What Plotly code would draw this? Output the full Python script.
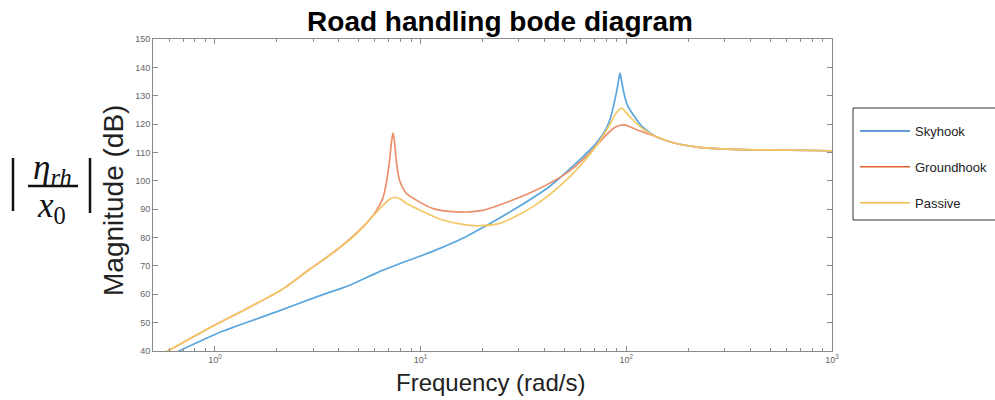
import plotly.graph_objects as go

# Frequency response magnitudes (rad/s, dB) for the three suspension strategies
sky_freq = [0.5, 0.67, 1.02, 1.99, 3.12, 4.52, 6.56, 9.9, 11.5, 16.6, 20.7, 29.1, 42.2,
            57, 71.5, 80, 84, 87, 90, 92, 93.2, 95, 98, 101.5, 106.6, 119.5, 139, 168,
            226, 328, 476, 1000]
sky_db = [35.8, 40, 46.1, 53.8, 59.1, 63.2, 68.5, 73.4, 75.2, 80.3, 84.1, 90.3, 97.9,
          106.2, 113.3, 118.5, 122.5, 127, 132, 136, 138, 135, 130, 126.5, 123.9, 119.1,
          115.6, 113.5, 111.8, 111.1, 110.9, 110.6]

ground_freq = [0.5, 0.59, 0.98, 1.48, 2.15, 2.89, 3.9, 4.87, 5.45, 6.1, 6.56, 6.81, 7.07,
               7.21, 7.34, 7.48, 7.61, 7.75, 7.91, 8.52, 9.53, 11.5, 13.8, 16.6, 20, 24.2,
               35.2, 51.2, 63.7, 79.5, 87, 92.6, 98.2, 106.6, 119.5, 139, 168, 226, 328,
               476, 1000]
ground_db = [37.1, 40, 48.8, 55.5, 62, 68.8, 75.6, 81.6, 85, 89.5, 94, 99.1, 107.4,
             113.3, 116.8, 113.3, 107.4, 103, 100, 95.6, 93.2, 90.2, 89.2, 89, 89.6, 91.5,
             96.2, 102.7, 108.5, 116, 118.6, 119.5, 119.7, 118.7, 117.3, 115.6, 113.5,
             111.8, 111.1, 110.9, 110.6]

passive_freq = [0.5, 0.59, 0.98, 1.48, 2.15, 2.89, 3.9, 4.87, 5.65, 6.56, 7.0, 7.48, 8.0,
                8.52, 10.3, 12.8, 17.3, 20, 24.2, 35.2, 51.2, 68.6, 82.7, 88, 92, 95.5, 99,
                106.6, 119.5, 139, 168, 226, 328, 476, 1000]
passive_db = [37.1, 40, 48.8, 55.5, 62, 68.8, 75.5, 81.3, 86.3, 91.3, 93.3, 94.2, 93.5,
              92.1, 89.1, 86.2, 84.3, 84.2, 85, 90.9, 100.3, 110.6, 119.5, 123.2, 125.0,
              125.6, 124.3, 121.8, 118.5, 115.6, 113.5, 111.8, 111.1, 110.9, 110.6]

series_names = ["Skyhook", "Groundhook", "Passive"]
curve_colors = ["#5aa6dc", "#ea8f6a", "#f4c765"]
legend_colors = ["#2f7fcf", "#e0612f", "#efbd4f"]

x_tick_vals = [1, 10, 100, 1000]
x_tick_text = ["10<sup>0</sup>", "10<sup>1</sup>", "10<sup>2</sup>", "10<sup>3</sup>"]
x_minor_vals = [m * 10 ** d for d in range(-1, 3) for m in range(2, 10) if 0.5 <= m * 10 ** d <= 1000]
y_tick_vals = list(range(40, 151, 10))

# Plot-area geometry in pixels
W, H = 995, 400
L, R, T, B = 153, 832, 39, 351


def px(xp):
    return (xp - L) / (R - L)


def py(yp):
    return (B - yp) / (B - T)


fig = go.Figure()
for name, fx, fy, c in zip(series_names, [sky_freq, ground_freq, passive_freq],
                           [sky_db, ground_db, passive_db], curve_colors):
    fig.add_trace(go.Scatter(x=fx, y=fy, mode="lines", name=name, showlegend=False,
                             line=dict(color=c, width=1.7, shape="spline", smoothing=0.8)))

for i, (name, c) in enumerate(zip(series_names, legend_colors)):
    fig.add_trace(go.Scatter(x=[None], y=[None], mode="lines", name=name,
                             legendgroup=f"g{i}", line=dict(color=c, width=1.5)))

axis_common = dict(showgrid=False, zeroline=False, showline=True, linecolor="#8a8a8a",
                   linewidth=1, mirror="ticks", ticks="inside", tickcolor="#8a8a8a",
                   tickfont=dict(family="Liberation Sans, Arial", size=9, color="#666666"))

fig.update_xaxes(type="log", range=[-0.30103, 3], tickvals=x_tick_vals, ticktext=x_tick_text,
                 ticklen=5, minor=dict(tickvals=x_minor_vals, ticks="inside", ticklen=3,
                                       tickcolor="#8a8a8a"),
                 **axis_common)
fig.update_yaxes(range=[40, 150], tickvals=y_tick_vals, ticklen=5, **axis_common)

annotations = [
    dict(text="Magnitude (dB)", x=px(114), y=py(201), textangle=-90,
         font=dict(family="Liberation Sans, Arial", size=28, color="#222222")),
    dict(text="Frequency (rad/s)", x=px(490), y=py(382),
         font=dict(family="Liberation Sans, Arial", size=24, color="#222222")),
    dict(text="<i>η</i><sub><i>rh</i></sub>", x=px(52), y=py(170),
         font=dict(family="Liberation Serif, DejaVu Serif", size=35, color="#111111")),
    dict(text="<i>x</i><sub>0</sub>", x=px(51), y=py(207),
         font=dict(family="Liberation Serif, DejaVu Serif", size=35, color="#111111")),
]
for a in annotations:
    a.update(xref="paper", yref="paper", showarrow=False, xanchor="center", yanchor="middle")

shapes = [
    dict(type="line", x0=px(13), x1=px(13), y0=py(158), y1=py(211),
         line=dict(color="#111111", width=2.5)),
    dict(type="line", x0=px(90), x1=px(90), y0=py(158), y1=py(213),
         line=dict(color="#111111", width=2.5)),
    dict(type="line", x0=px(28), x1=px(78), y0=py(186), y1=py(186),
         line=dict(color="#111111", width=2.5)),
    # legend frame
    dict(type="rect", x0=px(853), x1=px(1010), y0=py(108), y1=py(220),
         line=dict(color="#333333", width=1), fillcolor="rgba(0,0,0,0)"),
]
for s in shapes:
    s.update(xref="paper", yref="paper")

fig.update_layout(
    width=W, height=H,
    margin=dict(l=L, r=W - R, t=T, b=H - B, autoexpand=False),
    paper_bgcolor="white", plot_bgcolor="white",
    title=dict(text="<b>Road handling bode diagram</b>", x=px(500), xref="paper",
               y=1 - 21 / H, yanchor="middle", xanchor="center",
               font=dict(family="Liberation Sans, Arial", size=28, color="#000000")),
    legend=dict(x=px(855), y=py(116), xanchor="left", yanchor="top",
                borderwidth=0, bgcolor="rgba(0,0,0,0)", itemwidth=50,
                traceorder="grouped", tracegroupgap=16,
                font=dict(family="Liberation Sans, Arial", size=13, color="#222222")),
    annotations=annotations,
    shapes=shapes,
)

fig.write_html("out.html")
